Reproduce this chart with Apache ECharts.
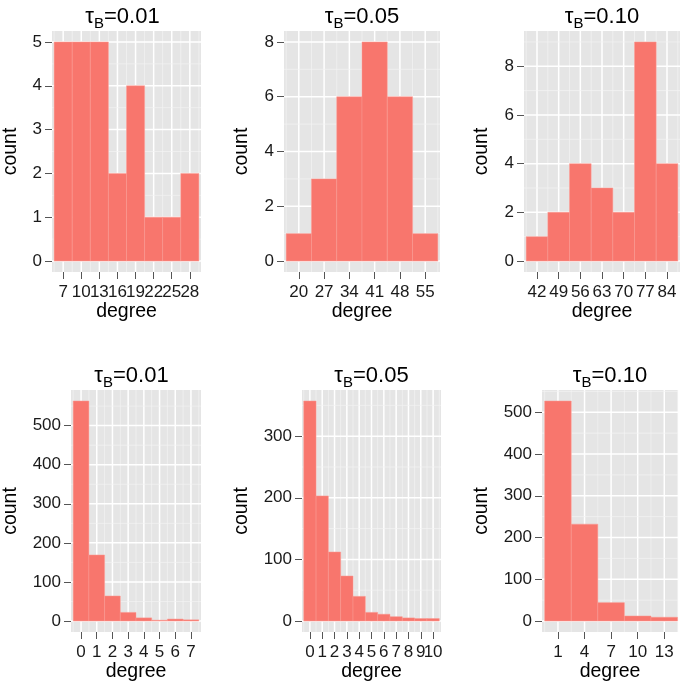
<!DOCTYPE html>
<html><head><meta charset="utf-8">
<script src="https://cdn.jsdelivr.net/npm/echarts@6/dist/echarts.min.js"></script>
<style>html,body{margin:0;padding:0;background:#fff}#c{width:685px;height:685px}</style>
</head><body><div id="c"></div>
<script>
// ---------- data ----------
const tau = ['0.01', '0.05', '0.10', '0.01', '0.05', '0.10'];

const degree1 = [7, 10, 13, 16, 19, 22, 25, 28];
const count1  = [5, 5, 5, 2, 4, 1, 1, 2];
const degree2 = [20, 27, 34, 41, 48, 55];
const count2  = [1, 3, 6, 8, 6, 1];
const degree3 = [42, 49, 56, 63, 70, 77, 84];
const count3  = [1, 2, 4, 3, 2, 9, 4];
const degree4 = [0, 1, 2, 3, 4, 5, 6, 7];
const count4  = [563, 169, 64, 22, 8, 2, 5, 3];
const degree5 = [0, 1, 2, 3, 4, 5, 6, 7, 8, 9, 10];
const count5  = [357, 203, 112, 73, 40, 14, 11, 7, 5, 4, 4];
const degree6 = [1, 4, 7, 10, 13];
const count6  = [527, 232, 44, 12, 9];

const binWidth = [3, 7, 7, 1, 1, 3];

const xTicks1 = [7, 10, 13, 16, 19, 22, 25, 28];
const xTicks2 = [20, 27, 34, 41, 48, 55];
const xTicks3 = [42, 49, 56, 63, 70, 77, 84];
const xTicks4 = [0, 1, 2, 3, 4, 5, 6, 7];
const xTicks5 = [0, 1, 2, 3, 4, 5, 6, 7, 8, 9, 10];
const xTicks6 = [1, 4, 7, 10, 13];
const yTicks1 = [0, 1, 2, 3, 4, 5];
const yTicks2 = [0, 2, 4, 6, 8];
const yTicks3 = [0, 2, 4, 6, 8];
const yTicks4 = [0, 100, 200, 300, 400, 500];
const yTicks5 = [0, 100, 200, 300];
const yTicks6 = [0, 100, 200, 300, 400, 500];

// ---------- layout ----------
const FONT = '"Liberation Sans", Arial, Helvetica, sans-serif';
const layout = [
  {grid: {left: 44,  top: 31,  width: 157, height: 241}, x: [5.15, 29.85], y: [-0.25, 5.25],   gap: 31},
  {grid: {left: 284, top: 31,  width: 156, height: 241}, x: [15.9, 59.1],  y: [-0.4, 8.4],     gap: 32},
  {grid: {left: 524, top: 31,  width: 156, height: 241}, x: [37.8, 88.2],  y: [-0.45, 9.45],   gap: 32},
  {grid: {left: 62,  top: 390, width: 139, height: 242}, x: [-0.64, 7.64], y: [-28.15, 591.15], gap: 50},
  {grid: {left: 302, top: 390, width: 139, height: 242}, x: [-0.64, 10.64],y: [-17.85, 374.85], gap: 50},
  {grid: {left: 542, top: 390, width: 136, height: 242}, x: [-0.8, 14.55], y: [-26.35, 553.35], gap: 50}
];
const degrees = [degree1, degree2, degree3, degree4, degree5, degree6];
const counts = [count1, count2, count3, count4, count5, count6];
const xTicks = [xTicks1, xTicks2, xTicks3, xTicks4, xTicks5, xTicks6];
const yTicks = [yTicks1, yTicks2, yTicks3, yTicks4, yTicks5, yTicks6];

function minors(t, lo, hi) {
  const step = t[1] - t[0];
  const out = [];
  for (let i = -1; i < t.length; i++) {
    const m = t[0] + step * (i + 0.5);
    if (m > lo && m < hi) out.push(m);
  }
  return out;
}

const grids = [], xAxes = [], yAxes = [], series = [], titles = [];
layout.forEach((L, i) => {
  grids.push(Object.assign({show: true, backgroundColor: '#E5E5E5', borderWidth: 0, containLabel: false}, L.grid));
  const labelBase = {fontSize: 17, color: '#1a1a1a', fontFamily: FONT, showMinLabel: true, showMaxLabel: true, hideOverlap: false, margin: 12};
  const evenT = xTicks[i].filter((v, k) => k % 2 === 0);
  const oddT = xTicks[i].filter((v, k) => k % 2 === 1);
  // primary x axis: ticks, name, even-indexed labels
  xAxes.push({
    type: 'value', gridIndex: i, position: 'bottom', min: L.x[0], max: L.x[1],
    name: 'degree', nameLocation: 'middle', nameGap: 29,
    nameTextStyle: {fontSize: 19.5, color: '#000', fontFamily: FONT},
    axisLine: {show: false, onZero: false},
    axisTick: {show: true, length: 7, lineStyle: {color: '#555', width: 1}, customValues: xTicks[i]},
    axisLabel: Object.assign({customValues: evenT}, labelBase),
    splitLine: {show: false}
  });
  // companion x axis on the same grid: odd-indexed labels (avoids automatic overlap hiding)
  xAxes.push({
    type: 'value', gridIndex: i, position: 'bottom', min: L.x[0], max: L.x[1],
    axisLine: {show: false, onZero: false},
    axisTick: {show: false},
    axisLabel: Object.assign({customValues: oddT}, labelBase),
    splitLine: {show: false}
  });
  yAxes.push({
    type: 'value', gridIndex: i, min: L.y[0], max: L.y[1],
    name: 'count', nameLocation: 'middle', nameGap: L.gap, nameRotate: 90,
    nameTextStyle: {fontSize: 19.5, color: '#000', fontFamily: FONT},
    axisLine: {show: false, onZero: false},
    axisTick: {show: true, length: 7, lineStyle: {color: '#555', width: 1}, customValues: yTicks[i]},
    axisLabel: Object.assign({}, labelBase, {margin: 10, customValues: yTicks[i]}),
    splitLine: {show: false}
  });
  // grid lines: kind 0 = vertical major, 1 = vertical minor, 2 = horizontal major, 3 = horizontal minor
  const gl = [];
  xTicks[i].forEach(v => gl.push([v, 0]));
  minors(xTicks[i], L.x[0], L.x[1]).forEach(v => gl.push([v, 1]));
  yTicks[i].forEach(v => gl.push([v, 2]));
  minors(yTicks[i], L.y[0], L.y[1]).forEach(v => gl.push([v, 3]));
  const xr = L.x, yr = L.y;
  series.push({
    type: 'custom', xAxisIndex: 2 * i, yAxisIndex: i, z: 1, silent: true,
    data: gl,
    renderItem: function (params, api) {
      const v = api.value(0), kind = api.value(1);
      const cs = params.coordSys;
      let shape;
      if (kind < 2) {
        const x = api.coord([v, yr[0]])[0];
        shape = {x1: x, y1: cs.y, x2: x, y2: cs.y + cs.height};
      } else {
        const y = api.coord([xr[0], v])[1];
        shape = {x1: cs.x, y1: y, x2: cs.x + cs.width, y2: y};
      }
      const major = kind % 2 === 0;
      return {type: 'line', shape: shape,
        style: {stroke: major ? '#FFFFFF' : '#F3F3F3', lineWidth: major ? 1.5 : 0.7}};
    }
  });
  const bw = binWidth[i];
  series.push({
    type: 'custom', xAxisIndex: 2 * i, yAxisIndex: i, z: 2,
    data: degrees[i].map((d, k) => [d, counts[i][k]]),
    renderItem: function (params, api) {
      const x = api.value(0), c = api.value(1);
      const p0 = api.coord([x - bw / 2, c]);
      const p1 = api.coord([x + bw / 2, 0]);
      return {type: 'rect',
        shape: {x: p0[0], y: p0[1], width: p1[0] - p0[0], height: p1[1] - p0[1]},
        style: {fill: '#F8766D', stroke: '#FA9A93', lineWidth: 0.5}};
    }
  });
  titles.push({
    text: '{t|τ}{s|B}{t|=' + tau[i] + '}',
    left: L.grid.left + L.grid.width / 2, top: L.grid.top - 25,
    textAlign: 'center', padding: 0,
    textStyle: {
      fontWeight: 'normal',
      rich: {
        t: {fontSize: 22, fontWeight: 'normal', color: '#000', fontFamily: FONT, lineHeight: 22, verticalAlign: 'top'},
        s: {fontSize: 15, fontWeight: 'normal', color: '#000', fontFamily: FONT, lineHeight: 15, padding: [10, 0, 0, 0], verticalAlign: 'top'}
      }
    }
  });
});

const chart = echarts.init(document.getElementById('c'), null, {renderer: 'canvas'});
chart.setOption({
  animation: false,
  backgroundColor: '#FFFFFF',
  title: titles,
  grid: grids,
  xAxis: xAxes,
  yAxis: yAxes,
  series: series
});
</script>
</body></html>
